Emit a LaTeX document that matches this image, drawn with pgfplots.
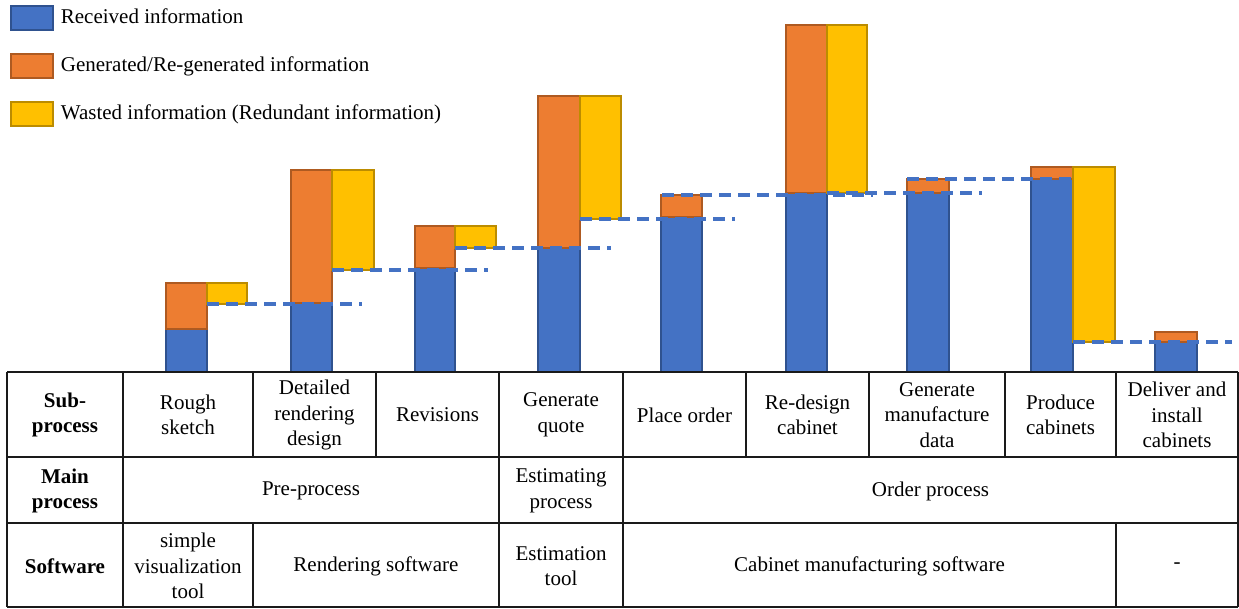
\documentclass[border=0pt]{standalone}
\usepackage{pgfplots}
\pgfplotsset{compat=1.18}
\usepackage{fontspec}
\setmainfont{Liberation Serif}
\definecolor{cblue}{HTML}{4472C4}
\definecolor{cblueb}{HTML}{2F528F}
\definecolor{corange}{HTML}{ED7D31}
\definecolor{coranb}{HTML}{AE5A21}
\definecolor{cyellow}{HTML}{FFC000}
\definecolor{cyelb}{HTML}{BC8C00}
\definecolor{tline}{HTML}{1A1A1A}
\begin{document}
\fontsize{10.5}{12.75}\selectfont
\begin{tikzpicture}[every node/.style={font=\fontsize{10.5}{12.75}\selectfont}]
\begin{axis}[
  x=0.5pt, y=0.5pt,
  xmin=0, xmax=1239, ymin=-237, ymax=372,
  hide axis, clip=false,
  legend style={at={(axis cs:10,367)}, anchor=north west, draw=none, fill=none,
    inner sep=0pt, row sep=11.25pt, column sep=3.5pt,
    nodes={inner sep=0pt}, cells={anchor=west}},
  legend image code/.code={\draw[#1] (0pt,-6pt) rectangle (21pt,6pt);},
  bluebar/.style={fill=cblue, draw=cblueb, line width=0.75pt, forget plot},
  orangebar/.style={fill=corange, draw=coranb, line width=0.75pt, forget plot},
  yellowbar/.style={fill=cyellow, draw=cyelb, line width=0.75pt, forget plot},
  flow/.style={cblue, line width=1.6pt, dash pattern=on 6pt off 3.5pt, forget plot},
]
\addlegendimage{fill=cblue, draw=cblueb, line width=0.75pt}
\addlegendentry{Received information}
\addlegendimage{fill=corange, draw=coranb, line width=0.75pt}
\addlegendentry{Generated/Re-generated information}
\addlegendimage{fill=cyellow, draw=cyelb, line width=0.75pt}
\addlegendentry{Wasted information (Redundant information)}

% received information (blue)
\addplot[bluebar] coordinates {(166,0) (207,0) (207,43) (166,43)} -- cycle;
\addplot[bluebar] coordinates {(291,0) (332,0) (332,69) (291,69)} -- cycle;
\addplot[bluebar] coordinates {(415,0) (455,0) (455,104) (415,104)} -- cycle;
\addplot[bluebar] coordinates {(538,0) (580,0) (580,124) (538,124)} -- cycle;
\addplot[bluebar] coordinates {(661,0) (702,0) (702,155) (661,155)} -- cycle;
\addplot[bluebar] coordinates {(786,0) (827,0) (827,179) (786,179)} -- cycle;
\addplot[bluebar] coordinates {(907,0) (949,0) (949,179) (907,179)} -- cycle;
\addplot[bluebar] coordinates {(1031,0) (1073,0) (1073,193) (1031,193)} -- cycle;
\addplot[bluebar] coordinates {(1155,0) (1197,0) (1197,30) (1155,30)} -- cycle;

% generated / re-generated information (orange)
\addplot[orangebar] coordinates {(166,43) (207,43) (207,89) (166,89)} -- cycle;
\addplot[orangebar] coordinates {(291,69) (332,69) (332,202) (291,202)} -- cycle;
\addplot[orangebar] coordinates {(415,104) (455,104) (455,146) (415,146)} -- cycle;
\addplot[orangebar] coordinates {(538,124) (580,124) (580,276) (538,276)} -- cycle;
\addplot[orangebar] coordinates {(661,155) (702,155) (702,177) (661,177)} -- cycle;
\addplot[orangebar] coordinates {(786,179) (827,179) (827,347) (786,347)} -- cycle;
\addplot[orangebar] coordinates {(907,179) (949,179) (949,193) (907,193)} -- cycle;
\addplot[orangebar] coordinates {(1031,193) (1073,193) (1073,205) (1031,205)} -- cycle;
\addplot[orangebar] coordinates {(1155,30) (1197,30) (1197,40) (1155,40)} -- cycle;

% wasted information (yellow)
\addplot[yellowbar] coordinates {(207,68) (247,68) (247,89) (207,89)} -- cycle;
\addplot[yellowbar] coordinates {(332,102) (374,102) (374,202) (332,202)} -- cycle;
\addplot[yellowbar] coordinates {(455,124) (496,124) (496,146) (455,146)} -- cycle;
\addplot[yellowbar] coordinates {(580,153) (621,153) (621,276) (580,276)} -- cycle;
\addplot[yellowbar] coordinates {(827,179) (867,179) (867,347) (827,347)} -- cycle;
\addplot[yellowbar] coordinates {(1073,30) (1115,30) (1115,205) (1073,205)} -- cycle;

% information carried to the next step (dashed)
\addplot[flow] coordinates {(207,68) (362,68)};
\addplot[flow] coordinates {(332,102) (488,102)};
\addplot[flow] coordinates {(455,124) (611,124)};
\addplot[flow] coordinates {(580,153) (735,153)};
\addplot[flow] coordinates {(662,177) (873,177)};
\addplot[flow] coordinates {(827,179) (982,179)};
\addplot[flow] coordinates {(907,193) (1073,193)};
\addplot[flow] coordinates {(1073,30) (1232,30)};

% table
\path (axis cs:0,-237) rectangle (axis cs:1239,372);
\draw[tline, line width=0.7pt] (axis cs:7,0) -- (axis cs:1238,0);
\draw[tline, line width=0.7pt] (axis cs:7,-85) -- (axis cs:1238,-85);
\draw[tline, line width=0.7pt] (axis cs:7,-151) -- (axis cs:1238,-151);
\draw[tline, line width=0.7pt] (axis cs:7,-235) -- (axis cs:1238,-235);
\draw[tline, line width=0.7pt] (axis cs:7,0) -- (axis cs:7,-235);
\draw[tline, line width=0.7pt] (axis cs:123,0) -- (axis cs:123,-235);
\draw[tline, line width=0.7pt] (axis cs:1238,0) -- (axis cs:1238,-235);
\draw[tline, line width=0.7pt] (axis cs:253,0) -- (axis cs:253,-85);
\draw[tline, line width=0.7pt] (axis cs:376,0) -- (axis cs:376,-85);
\draw[tline, line width=0.7pt] (axis cs:499,0) -- (axis cs:499,-235);
\draw[tline, line width=0.7pt] (axis cs:623,0) -- (axis cs:623,-235);
\draw[tline, line width=0.7pt] (axis cs:746,0) -- (axis cs:746,-85);
\draw[tline, line width=0.7pt] (axis cs:869,0) -- (axis cs:869,-85);
\draw[tline, line width=0.7pt] (axis cs:1005,0) -- (axis cs:1005,-85);
\draw[tline, line width=0.7pt] (axis cs:1116,0) -- (axis cs:1116,-85);
\draw[tline, line width=0.7pt] (axis cs:253,-151) -- (axis cs:253,-235);
\draw[tline, line width=0.7pt] (axis cs:1116,-151) -- (axis cs:1116,-235);

\node[align=center, inner sep=0pt] at (axis cs:65,-43) {\textbf{Sub-}\\\textbf{process}};
\node[align=center, inner sep=0pt] at (axis cs:188,-43) {Rough\\sketch};
\node[align=center, inner sep=0pt] at (axis cs:314.5,-43) {Detailed\\rendering\\design};
\node[align=center, inner sep=0pt] at (axis cs:437.5,-43) {Revisions};
\node[align=center, inner sep=0pt] at (axis cs:561,-43) {Generate\\quote};
\node[align=center, inner sep=0pt] at (axis cs:684.5,-43) {Place order};
\node[align=center, inner sep=0pt] at (axis cs:807.5,-43) {Re-design\\cabinet};
\node[align=center, inner sep=0pt] at (axis cs:937,-43) {Generate\\manufacture\\data};
\node[align=center, inner sep=0pt] at (axis cs:1060.5,-43) {Produce\\cabinets};
\node[align=center, inner sep=0pt] at (axis cs:1177,-43) {Deliver and\\install\\cabinets};
\node[align=center, inner sep=0pt] at (axis cs:65,-119) {\textbf{Main}\\\textbf{process}};
\node[align=center, inner sep=0pt] at (axis cs:311,-119) {Pre-process};
\node[align=center, inner sep=0pt] at (axis cs:561,-119) {Estimating\\process};
\node[align=center, inner sep=0pt] at (axis cs:930.5,-119) {Order process};
\node[align=center, inner sep=0pt] at (axis cs:65,-194) {\textbf{Software}};
\node[align=center, inner sep=0pt] at (axis cs:188,-194) {simple\\visualization\\tool};
\node[align=center, inner sep=0pt] at (axis cs:376,-194) {Rendering software};
\node[align=center, inner sep=0pt] at (axis cs:561,-194) {Estimation\\tool};
\node[align=center, inner sep=0pt] at (axis cs:869.5,-194) {Cabinet manufacturing software};
\node[align=center, inner sep=0pt] at (axis cs:1177,-194) {-};
\end{axis}
\end{tikzpicture}
\end{document}
